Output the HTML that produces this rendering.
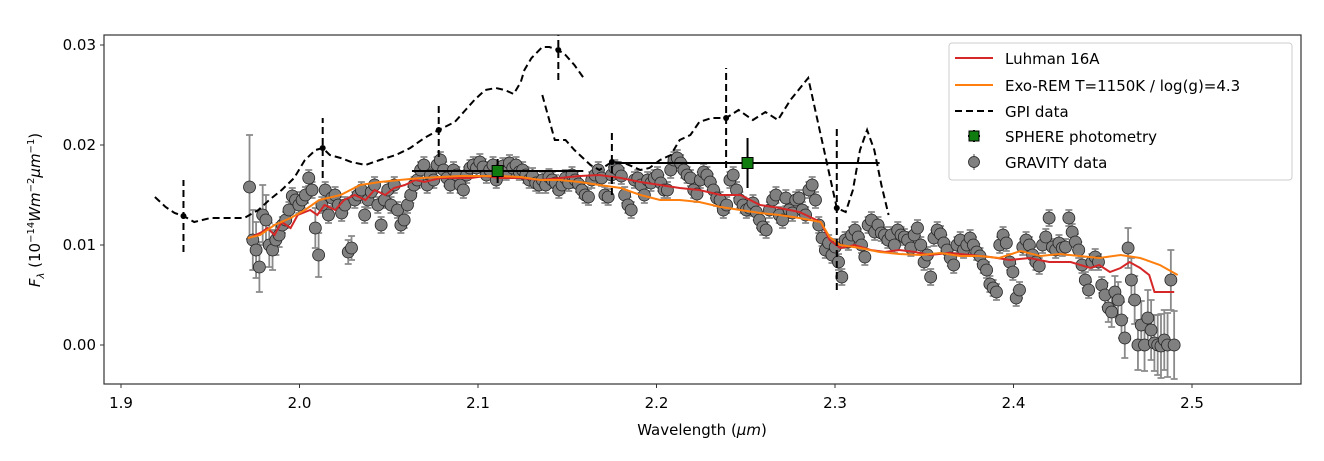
<!DOCTYPE html>
<html><head><meta charset="utf-8"><style>
body{margin:0;background:#fff;}
svg text{font-family:"DejaVu Sans","Liberation Sans",sans-serif;}
</style></head><body>
<svg id="chart" width="1324" height="456" viewBox="0 0 1324 456" xmlns="http://www.w3.org/2000/svg">
<rect x="0" y="0" width="1324" height="456" fill="#fff"/>
<defs><clipPath id="plotclip"><rect x="104" y="35" width="1197" height="349"/></clipPath></defs>
<g id="marks" clip-path="url(#plotclip)"></g>
<rect x="104" y="35" width="1197" height="349" fill="none" stroke="#333" stroke-width="1.2"/>
<g id="axes"></g>
<text x="702" y="435" font-size="15" text-anchor="middle">Wavelength (<tspan font-style="italic">μm</tspan>)</text>
<text transform="translate(40,210) rotate(-90)" font-size="15" text-anchor="middle"><tspan font-style="italic">F</tspan><tspan font-style="italic" font-size="10" dy="4">λ</tspan><tspan dy="-4">  (10</tspan><tspan font-size="10" dy="-6">−14</tspan><tspan dy="6" font-style="italic">Wm</tspan><tspan font-size="10" dy="-6">−2</tspan><tspan dy="6" font-style="italic">μm</tspan><tspan font-size="10" dy="-6">−1</tspan><tspan dy="6">)</tspan></text>
<g>
<rect x="949" y="43" width="343" height="137" rx="3" fill="#fff" fill-opacity="0.85" stroke="#ccc"/>
<line x1="955" y1="58" x2="993" y2="58" stroke="#d62728" stroke-width="2"/>
<text x="1005" y="64" font-size="15">Luhman 16A</text>
<line x1="955" y1="85" x2="993" y2="85" stroke="#ff7f0e" stroke-width="2"/>
<text x="1005" y="91" font-size="15">Exo-REM T=1150K / log(g)=4.3</text>
<line x1="955" y1="111" x2="993" y2="111" stroke="#000" stroke-width="2" stroke-dasharray="7,4"/>
<text x="1005" y="117" font-size="15">GPI data</text>
<line x1="974" y1="130" x2="974" y2="142" stroke="#000" stroke-width="2"/>
<line x1="968" y1="136" x2="980" y2="136" stroke="#000" stroke-width="2"/>
<rect x="969" y="131" width="10" height="10" fill="#107c10" stroke="#000"/>
<text x="1005" y="142" font-size="15">SPHERE photometry</text>
<line x1="974" y1="154" x2="974" y2="170" stroke="#888" stroke-width="1.5"/>
<circle cx="974" cy="162" r="5.5" fill="#808080" stroke="#222" stroke-width="0.8"/>
<text x="1005" y="168" font-size="15">GRAVITY data</text>
</g>
</svg>
<script>
// ---- data ----
const xTicks = [1.9, 2.0, 2.1, 2.2, 2.3, 2.4, 2.5];
const xTickLabels = ["1.9","2.0","2.1","2.2","2.3","2.4","2.5"];
const yTicks = [0.00, 0.01, 0.02, 0.03];
const yTickLabels = ["0.00","0.01","0.02","0.03"];
// GRAVITY flux in units of 1e-4 (10^-14 W m^-2 um^-1), sampled on a regular wavelength grid
const gravityStart = 1.972;
const gravityEnd = 2.490;
const gravityFluxE4 = [158,105,95,78,130,125,100,95,105,110,120,125,135,149,145,140,145,150,167,155,117,90,140,155,130,147,150,140,132,140,93,97,145,150,155,130,145,153,160,140,120,145,155,140,160,135,120,125,140,150,160,165,175,180,160,170,165,180,185,175,167,160,175,170,160,155,170,177,180,177,183,178,170,175,180,165,175,179,173,182,177,180,173,175,170,165,169,162,160,165,160,168,165,162,155,160,167,162,170,165,161,155,150,148,165,170,175,167,150,148,170,177,175,169,150,140,135,165,167,160,150,165,162,167,170,162,155,155,175,185,187,182,175,170,167,155,151,165,173,170,163,155,147,145,135,140,165,170,155,145,140,135,137,142,133,125,118,115,135,145,150,130,125,147,135,132,145,147,135,130,155,160,145,120,107,95,102,90,98,83,68,105,103,110,115,108,100,88,120,125,113,120,112,110,105,110,100,115,110,108,105,97,110,117,100,83,90,68,107,115,111,102,95,87,80,100,105,95,100,107,100,93,89,80,75,61,57,53,100,110,102,83,73,47,55,98,105,100,90,83,79,100,108,127,98,95,102,97,98,127,113,103,95,80,65,55,83,88,83,60,50,37,33,53,45,25,7,97,65,45,0,20,0,27,15,2,0,-1,5,0,65,0];
const gravityErrDefaultE4 = 8;
const gravityErrE4 = {0:52,1:30,2:28,3:25,4:30,5:25,6:22,7:20,8:15,9:12,20:20,21:22,30:12,31:12,
  260:12,261:14,262:15,263:16,264:18,265:18,266:20,267:20,268:22,269:24,270:25,271:24,272:26,273:28,274:30,275:28,276:30,277:32,278:30,279:32,280:30,281:34,282:33,283:35,284:35,285:30,286:35};
// Luhman 16A
const luhmanWl = [1.972,1.979,1.982,1.986,1.990,1.995,1.999,2.006,2.010,2.014,2.020,2.025,2.031,2.037,2.042,2.048,2.053,2.059,2.065,2.070,2.079,2.087,2.096,2.104,2.112,2.124,2.135,2.146,2.157,2.168,2.180,2.191,2.202,2.213,2.224,2.236,2.247,2.258,2.269,2.280,2.292,2.297,2.303,2.311,2.320,2.328,2.336,2.345,2.353,2.364,2.376,2.387,2.398,2.409,2.420,2.432,2.443,2.448,2.454,2.460,2.465,2.471,2.476,2.479,2.490];
const luhmanFluxE4 = [107,113,117,110,123,117,130,135,130,140,135,145,150,145,155,150,157,160,165,163,167,167,167,169,167,167,165,167,169,170,167,163,160,157,155,150,150,140,137,133,123,105,97,100,95,93,95,93,90,92,90,88,85,87,83,83,77,80,73,77,83,77,70,53,53];
// Exo-REM model
const exoremWl = [1.971,1.978,1.986,1.995,2.003,2.011,2.023,2.034,2.045,2.056,2.068,2.079,2.090,2.101,2.112,2.124,2.135,2.146,2.157,2.168,2.180,2.191,2.202,2.213,2.224,2.236,2.247,2.258,2.269,2.280,2.292,2.297,2.303,2.314,2.325,2.336,2.348,2.359,2.370,2.381,2.392,2.404,2.415,2.426,2.437,2.448,2.460,2.471,2.482,2.492];
const exoremFluxE4 = [107,110,120,127,135,145,150,160,163,165,167,168,169,169,169,168,165,165,163,160,157,150,145,145,143,138,135,132,130,127,123,108,100,97,93,91,90,92,89,89,87,94,89,91,89,87,90,87,80,70];
// GPI spectrum (two segments)
const gpiWl1 = [1.919,1.925,1.930,1.935,1.941,1.950,1.961,1.969,1.977,1.983,1.990,1.997,2.003,2.009,2.013,2.017,2.023,2.029,2.037,2.045,2.054,2.062,2.070,2.078,2.087,2.093,2.098,2.104,2.110,2.115,2.120,2.124,2.126,2.130,2.136,2.140,2.145,2.149,2.154,2.160];
const gpiFlux1E4 = [148,138,132,129,123,127,127,127,135,145,155,167,185,195,197,190,187,183,180,185,190,197,207,215,223,235,245,255,257,255,251,263,275,287,298,298,295,290,280,265];
const gpiWl2 = [2.136,2.143,2.149,2.154,2.163,2.168,2.175,2.182,2.191,2.196,2.202,2.208,2.213,2.219,2.224,2.231,2.239,2.246,2.254,2.261,2.268,2.275,2.285,2.301,2.306,2.310,2.314,2.318,2.322,2.326,2.330];
const gpiFlux2E4 = [250,205,205,195,180,175,183,182,175,177,185,190,205,210,223,227,227,235,225,233,225,245,267,137,133,155,195,215,195,160,130];
const gpiPtWl = [1.935,2.013,2.078,2.145,2.175,2.239,2.301];
const gpiPtFluxE4 = [129,197,215,295,183,227,137];
const gpiPtErrE4 = [36,30,27,30,33,50,82];
// SPHERE photometry
const sphereWl = [2.111,2.251];
const sphereWlErr = [0.048,0.074];
const sphereFluxE4 = [174,182];
const sphereErrE4 = [12,25];

// ---- scales ----
const X0=121, XS=1785;
const Y0=345, YS=10000;
function xs(l){return X0+(l-1.9)*XS;}
function ys(f){return Y0-f*YS;}
function ysE4(v){return ys(v*1e-4);}
const NS="http://www.w3.org/2000/svg";
const marks=document.getElementById('marks');
const axes=document.getElementById('axes');
function mk(tag,attrs,parent){const e=document.createElementNS(NS,tag);for(const k in attrs)e.setAttribute(k,attrs[k]);(parent||marks).appendChild(e);return e;}
function pathFrom(wl,f){return wl.map((l,i)=>(i?'L':'M')+xs(l).toFixed(1)+','+ysE4(f[i]).toFixed(1)).join('');}

xTicks.forEach((t,i)=>{
  const l=mk('line',{x1:xs(t),x2:xs(t),y1:384,y2:388,stroke:'#333','stroke-width':1},axes);
  
  
  const tx=mk('text',{x:xs(t),y:408,'font-size':15,'text-anchor':'middle'},axes);
  tx.textContent=xTickLabels[i];
  
  
});
yTicks.forEach((t,i)=>{
  const l=mk('line',{x1:100,x2:104,y1:ys(t),y2:ys(t),stroke:'#333','stroke-width':1},axes);
  
  
  const tx=mk('text',{x:96,y:ys(t)+5,'font-size':15,'text-anchor':'end'},axes);
  tx.textContent=yTickLabels[i];
  
  
});

const nG=gravityFluxE4.length;
const gG=mk('g',{});


const gPts=[];
gravityFluxE4.forEach((v,i)=>{
  const l=gravityStart+(gravityEnd-gravityStart)*i/(nG-1);
  const e=(gravityErrE4[i]!==undefined?gravityErrE4[i]:gravityErrDefaultE4);
  const x=xs(l);
  const b=mk('path',{d:`M${x},${ysE4(v-e)}L${x},${ysE4(v+e)}M${x-3.5},${ysE4(v-e)}L${x+3.5},${ysE4(v-e)}M${x-3.5},${ysE4(v+e)}L${x+3.5},${ysE4(v+e)}`,stroke:'#8a8a8a','stroke-width':1.8,fill:'none'},gG);
  
  
  gPts.push([x,ysE4(v)]);
});

const lum=mk('path',{d:pathFrom(luhmanWl,luhmanFluxE4),stroke:'#d62728','stroke-width':2,fill:'none'});


const exo=mk('path',{d:pathFrom(exoremWl,exoremFluxE4),stroke:'#ff7f0e','stroke-width':2,fill:'none'});



gPts.forEach(p=>{
  const c=mk('circle',{cx:p[0],cy:p[1],r:6,fill:'#808080',stroke:'#222','stroke-width':0.8},gG);
  
  
});
marks.appendChild(lum);marks.appendChild(exo);

const g1=mk('path',{d:pathFrom(gpiWl1,gpiFlux1E4),stroke:'#000','stroke-width':2,fill:'none','stroke-dasharray':'7,4'});


const g2=mk('path',{d:pathFrom(gpiWl2,gpiFlux2E4),stroke:'#000','stroke-width':2,fill:'none','stroke-dasharray':'7,4'});


gpiPtWl.forEach((l,i)=>{
  const x=xs(l),v=gpiPtFluxE4[i],e=gpiPtErrE4[i];
  const b=mk('line',{x1:x,x2:x,y1:ysE4(v-e),y2:ysE4(v+e),stroke:'#000','stroke-width':2,'stroke-dasharray':'7,4'});
  
  
  const c=mk('circle',{cx:x,cy:ysE4(v),r:3,fill:'#000'});
  
  
});

sphereWl.forEach((l,i)=>{
  const x=xs(l),y=ysE4(sphereFluxE4[i]);
  const h=mk('line',{x1:xs(l-sphereWlErr[i]),x2:xs(l+sphereWlErr[i]),y1:y,y2:y,stroke:'#000','stroke-width':2});
  
  
  const v=mk('line',{x1:x,x2:x,y1:ysE4(sphereFluxE4[i]-sphereErrE4[i]),y2:ysE4(sphereFluxE4[i]+sphereErrE4[i]),stroke:'#000','stroke-width':2});
  
  
  const r=mk('rect',{x:x-5.5,y:y-5.5,width:11,height:11,fill:'#107c10',stroke:'#000','stroke-width':1});
  
  
});
</script>
</body></html>
